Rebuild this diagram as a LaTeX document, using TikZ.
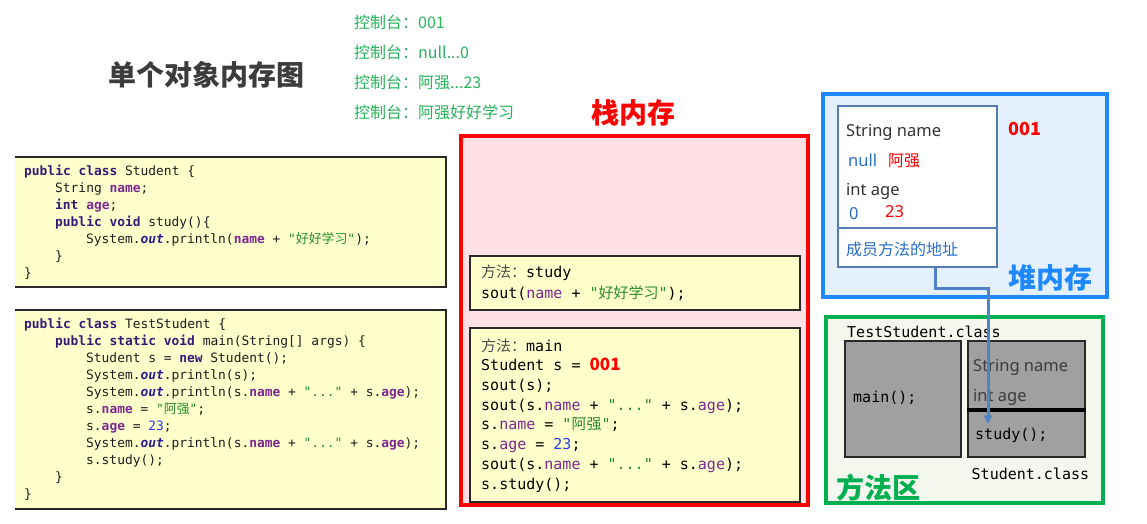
\documentclass[tikz,border=0pt]{standalone}
\usepackage{fontspec}
\setmainfont{Noto Sans}
\newfontfamily\cjk{Noto Sans CJK SC}
\newfontfamily\sans{Noto Sans}
\newfontfamily\mono{DejaVu Sans Mono}
\usetikzlibrary{arrows.meta}
\definecolor{kwc}{RGB}{55,25,120}
\definecolor{fdc}{RGB}{125,40,145}
\definecolor{stc}{RGB}{40,140,40}
\definecolor{nmc}{RGB}{40,60,240}
\definecolor{otc}{RGB}{40,30,150}
\definecolor{txc}{RGB}{30,30,30}
\definecolor{consc}{RGB}{40,180,90}
\definecolor{stackfill}{RGB}{255,224,228}
\definecolor{yel}{RGB}{255,255,204}
\definecolor{heapfill}{RGB}{228,240,254}
\definecolor{heapblue}{RGB}{30,136,255}
\definecolor{objblue}{RGB}{85,125,180}
\definecolor{methfill}{RGB}{243,247,238}
\definecolor{methgreen}{RGB}{0,176,80}
\definecolor{cellgray}{RGB}{160,160,160}
\definecolor{connc}{RGB}{80,130,200}
\definecolor{valblue}{RGB}{40,110,200}
\definecolor{boxline}{RGB}{40,40,40}
\newcommand\kw[1]{{\bfseries\color{kwc}#1}}
\newcommand\fd[1]{{\bfseries\color{fdc}#1}}
\newcommand\fdr[1]{{\color{fdc}#1}}
\newcommand\st[1]{{\color{stc}#1}}
\newcommand\nm[1]{{\color{nmc}#1}}
\newcommand\ot[1]{{\bfseries\itshape\color{otc}#1}}
\begin{document}
\begin{tikzpicture}[x=1pt,y=-1pt,
  codetxt/.style={anchor=base west,inner sep=0,text=txc,font={\mono\fontsize{12.9}{15}\selectfont}},
  stktxt/.style={anchor=base west,inner sep=0,text=black,font={\mono\fontsize{15}{18}\selectfont}},
  sanstxt/.style={anchor=base west,inner sep=0,font={\sans\fontsize{16.5}{19}\selectfont}},
  constxt/.style={anchor=base west,inner sep=0,text=consc,font={\cjk\fontsize{16}{19}\selectfont}},
  bigtitle/.style={inner sep=0,font={\cjk\bfseries\fontsize{28}{32}\selectfont}},
  framebox/.style={fill=yel,draw=boxline,line width=1.5pt,inner sep=0},
  cell/.style={fill=cellgray,draw=boxline,line width=1.5pt,inner sep=0},
  conn/.style={draw=connc,line width=3pt,-{Triangle[length=9pt,width=8pt]}}]
\useasboundingbox (0,0) rectangle (1147,523);
\fill[white] (0,0) rectangle (1147,523);

% title and console
\node[bigtitle,text={rgb,255:red,60;green,60;blue,60}] (title) at (206,75) {单个对象内存图};
\node[constxt] (con1) at (354,28) {控制台：001};
\node[constxt] (con2) at (354,58) {控制台：null...0};
\node[constxt] (con3) at (354,88) {控制台：阿强...23};
\node[constxt] (con4) at (354,118) {控制台：阿强好好学习};

% code boxes
\node[fill=yel,minimum width=431pt,minimum height=130pt,inner sep=0] (code1) at (230.5,222) {};
\draw[line width=1.5pt,draw=boxline] (code1.north west) -- (code1.north east) -- (code1.south east) -- (code1.south west);
\node[fill=yel,minimum width=431pt,minimum height=199pt,inner sep=0] (code2) at (230.5,409.5) {};
\draw[line width=1.5pt,draw=boxline] (code2.north west) -- (code2.north east) -- (code2.south east) -- (code2.south west);

\node[codetxt] (a1) at (24,175.5) {\kw{public} \kw{class} Student \{};
\node[codetxt] (a2) at (55,192.5) {String \fd{name};};
\node[codetxt] (a3) at (55,209.5) {\kw{int} \fd{age};};
\node[codetxt] (a4) at (55,226.5) {\kw{public} \kw{void} study()\{};
\node[codetxt] (a5) at (86,243.5) {System.\ot{out}.println(\fd{name} + \st{"{\cjk 好好学习}"});};
\node[codetxt] (a6) at (55,260.5) {\}};
\node[codetxt] (a7) at (24,277.5) {\}};

\node[codetxt] (b1) at (24,328.5) {\kw{public} \kw{class} TestStudent \{};
\node[codetxt] (b2) at (55,345.5) {\kw{public} \kw{static} \kw{void} main(String[] args) \{};
\node[codetxt] (b3) at (86,362.5) {Student s = \kw{new} Student();};
\node[codetxt] (b4) at (86,379.5) {System.\ot{out}.println(s);};
\node[codetxt] (b5) at (86,396.5) {System.\ot{out}.println(s.\fd{name} + \st{"..."} + s.\fd{age});};
\node[codetxt] (b6) at (86,413.5) {s.\fd{name} = \st{"{\cjk 阿强}"};};
\node[codetxt] (b7) at (86,430.5) {s.\fd{age} = \nm{23};};
\node[codetxt] (b8) at (86,447.5) {System.\ot{out}.println(s.\fd{name} + \st{"..."} + s.\fd{age});};
\node[codetxt] (b9) at (86,464.5) {s.study();};
\node[codetxt] (b10) at (55,481.5) {\}};
\node[codetxt] (b11) at (24,498.5) {\}};

% stack
\node[bigtitle,text=red] (stacktitle) at (633,113) {栈内存};
\node[fill=stackfill,draw=red,line width=4pt,minimum width=347pt,minimum height=369pt,inner sep=0] (stack) at (634.5,320.5) {};
\node[framebox,minimum width=330pt,minimum height=54pt] (studyf) at (635,283) {};
\node[framebox,minimum width=330pt,minimum height=174pt] (mainf) at (635,415) {};
\node[stktxt] (s1) at (481,277.5) {{\cjk\color[rgb]{0.3,0.3,0.3}方法：}study};
\node[stktxt] (s2) at (481,298.5) {sout(\fdr{name} + \st{"{\cjk 好好学习}"});};
\node[stktxt] (m1) at (481,351) {{\cjk\color[rgb]{0.3,0.3,0.3}方法：}main};
\node[stktxt] (m2) at (481,370.5) {Student s = {\cjk\bfseries\fontsize{17}{20}\selectfont\color{red}001}};
\node[stktxt] (m3) at (481,390.3) {sout(s);};
\node[stktxt] (m4) at (481,410.1) {sout(s.\fdr{name} + \st{"..."} + s.\fdr{age});};
\node[stktxt] (m5) at (481,429.9) {s.\fdr{name} = \st{"{\cjk 阿强}"};};
\node[stktxt] (m6) at (481,449.7) {s.\fdr{age} = \nm{23};};
\node[stktxt] (m7) at (481,469.5) {sout(s.\fdr{name} + \st{"..."} + s.\fdr{age});};
\node[stktxt] (m8) at (481,489.3) {s.study();};

% heap
\node[fill=heapfill,draw=heapblue,line width=4pt,minimum width=284pt,minimum height=203pt,inner sep=0] (heap) at (965,195.5) {};
\node[fill=white,draw=objblue,line width=2.5pt,minimum width=159pt,minimum height=122pt,inner sep=0] (obj) at (917.5,167) {};
\node[fill=white,draw=objblue,line width=2.5pt,minimum width=159pt,minimum height=39pt,inner sep=0] (addr) at (917.5,247.5) {};
\node[sanstxt,text={rgb,255:red,50;green,50;blue,50}] (h1) at (846,136) {String name};
\node[sanstxt,text=valblue] (h2) at (848,166) {null};
\node[sanstxt,text=red,font={\cjk\fontsize{16}{19}\selectfont}] (h3) at (888,166) {阿强};
\node[sanstxt,text={rgb,255:red,50;green,50;blue,50}] (h4) at (846,195) {int age};
\node[sanstxt,text=valblue] (h5) at (849,219) {0};
\node[sanstxt,text=red] (h6) at (885,217) {23};
\node[sanstxt,text=valblue,font={\cjk\fontsize{16}{19}\selectfont}] (h7) at (846,255) {成员方法的地址};
\node[inner sep=0,text=red,font={\cjk\bfseries\fontsize{18}{20}\selectfont}] (addr001) at (1025,129) {001};
\node[bigtitle,text=heapblue] (heaptitle) at (1050,278) {堆内存};

% method area
\node[fill=methfill,draw=methgreen,line width=4pt,minimum width=277pt,minimum height=186pt,inner sep=0] (meth) at (964.5,410) {};
\node[stktxt] (tsc) at (847,337) {TestStudent.class};
\node[cell,minimum width=116pt,minimum height=116pt] (maincell) at (903,399) {};
\node[cell,minimum width=117pt,minimum height=68pt] (fields) at (1026.5,375) {};
\node[cell,minimum width=117pt,minimum height=48pt] (studycell) at (1026.5,433) {};
\draw[line width=3.5pt,black] (fields.south west) -- (fields.south east);
\node[stktxt] (mt) at (853,402) {main();};
\node[sanstxt,text={rgb,255:red,60;green,60;blue,60}] (f1) at (973,371) {String name};
\node[sanstxt,text={rgb,255:red,60;green,60;blue,60}] (f2) at (973,401) {int age};
\node[stktxt] (stt) at (975,439) {study();};
\node[stktxt] (scl) at (971.5,479.5) {Student.class};
\node[bigtitle,text=methgreen] (methtitle) at (878,488) {方法区};

% connector
\draw[conn] ([xshift=17.5pt]addr.south) -- ++(0,20) -| ([xshift=-38.5pt,yshift=-16pt]studycell.north);
\end{tikzpicture}
\end{document}
